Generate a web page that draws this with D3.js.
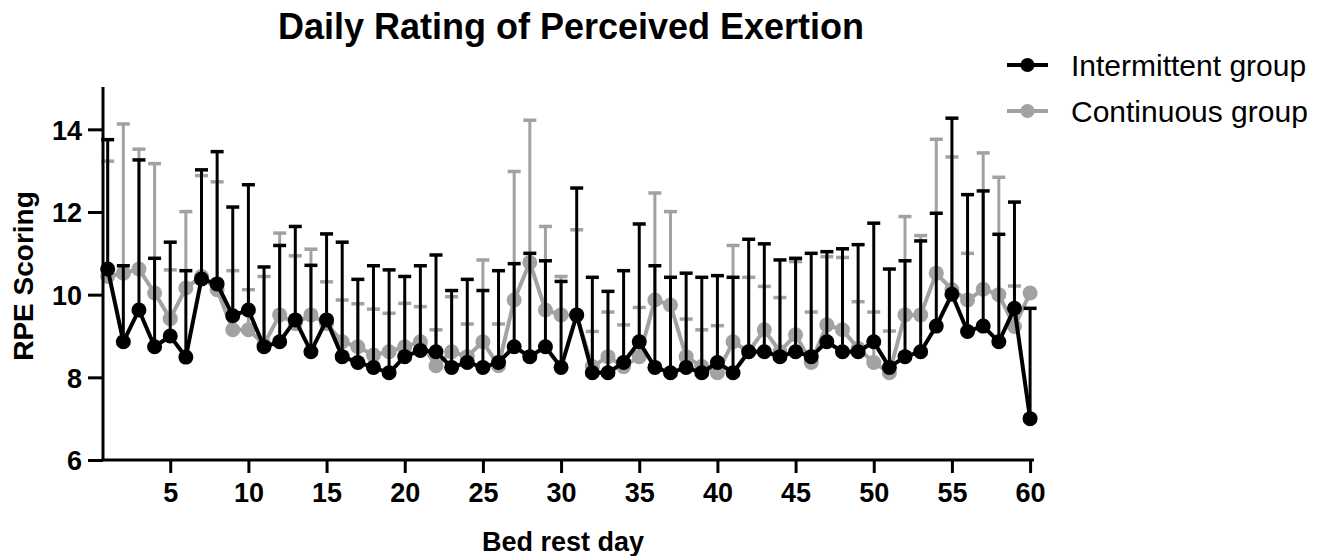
<!DOCTYPE html>
<html>
<head>
<meta charset="utf-8">
<script src="https://cdn.jsdelivr.net/npm/d3@7"></script>
<style>
  html, body { margin: 0; padding: 0; background: #fff; }
  svg { display: block; font-family: "Liberation Sans", Arial, Helvetica, sans-serif; }
</style>
</head>
<body>
<svg id="chart" width="1330" height="556"></svg>
<script>
const days = d3.range(1, 61);
const xTicks = [5, 10, 15, 20, 25, 30, 35, 40, 45, 50, 55, 60];
const yTicks = [6, 8, 10, 12, 14];

const intermittentMean = [10.62, 8.86, 9.63, 8.74, 9.00, 8.49, 10.38, 10.26, 9.49, 9.63,
  8.74, 8.86, 9.39, 8.62, 9.39, 8.50, 8.36, 8.24, 8.11, 8.50,
  8.65, 8.62, 8.24, 8.36, 8.24, 8.36, 8.74, 8.50, 8.74, 8.24,
  9.51, 8.11, 8.11, 8.36, 8.86, 8.24, 8.11, 8.24, 8.11, 8.36,
  8.11, 8.62, 8.62, 8.50, 8.62, 8.50, 8.86, 8.62, 8.62, 8.86,
  8.24, 8.50, 8.62, 9.24, 10.01, 9.11, 9.24, 8.86, 9.67, 7.00];
const intermittentSD = [3.13, 1.84, 3.63, 2.14, 2.27, 2.09, 2.64, 3.20, 2.63, 3.03,
  1.93, 2.33, 2.26, 2.09, 2.08, 2.77, 2.01, 2.46, 2.49, 1.94,
  2.05, 2.34, 1.86, 2.01, 1.86, 2.22, 2.01, 2.50, 2.08, 2.08,
  3.07, 2.31, 1.97, 2.22, 2.85, 2.46, 2.31, 2.28, 2.31, 2.10,
  2.31, 2.72, 2.61, 2.34, 2.26, 2.50, 2.18, 2.49, 2.59, 2.87,
  2.38, 2.32, 2.68, 2.73, 4.26, 3.31, 3.27, 2.60, 2.57, 2.67];

const continuousMean = [10.44, 10.52, 10.62, 10.04, 9.42, 10.16, 10.44, 10.12, 9.15, 9.15,
  8.80, 9.51, 9.30, 9.51, 9.30, 8.86, 8.74, 8.54, 8.62, 8.74,
  8.86, 8.28, 8.62, 8.50, 8.86, 8.28, 9.87, 10.78, 9.63, 9.51,
  9.50, 8.26, 8.50, 8.26, 8.50, 9.87, 9.75, 8.50, 8.26, 8.11,
  8.86, 8.62, 9.15, 8.62, 9.03, 8.36, 9.27, 9.15, 8.70, 8.36,
  8.11, 9.51, 9.51, 10.52, 10.12, 9.87, 10.13, 10.00, 9.23, 10.04];
const continuousSD = [2.79, 3.61, 2.90, 3.13, 1.18, 1.85, 2.44, 2.61, 1.43, 0.97,
  1.64, 1.98, 1.64, 1.59, 1.01, 1.01, 1.04, 1.11, 0.93, 1.05,
  0.85, 0.87, 1.33, 0.79, 1.98, 1.01, 3.11, 3.44, 2.02, 0.93,
  2.07, 0.85, 1.08, 1.01, 1.19, 2.59, 2.26, 0.91, 0.89, 1.14,
  2.33, 1.80, 1.05, 1.31, 1.77, 1.22, 1.65, 1.75, 1.13, 1.22,
  1.01, 2.38, 1.92, 3.24, 3.21, 1.13, 3.30, 2.84, 0.98, 0.00];

const seriesNames = ["Intermittent group", "Continuous group"];
const BLACK = "#000000";
const GRAY = "#a2a2a4";

const svg = d3.select("#chart");
const x = d3.scaleLinear().domain([0.7, 60.25]).range([103, 1034]);
const y = d3.scaleLinear().domain([6, 15]).range([460, 88]);

function drawSeries(means, sds, color) {
  const g = svg.append("g");
  const pts = days.map((d, i) => ({ day: d, mean: means[i], sd: sds[i] }));
  const eb = g.append("g").attr("stroke", color).attr("stroke-width", 3).attr("fill", "none");
  pts.filter(p => p.sd > 0).forEach(p => {
    eb.append("line").attr("x1", x(p.day)).attr("x2", x(p.day))
      .attr("y1", y(p.mean)).attr("y2", y(p.mean + p.sd));
    eb.append("line").attr("x1", x(p.day) - 6.5).attr("x2", x(p.day) + 6.5)
      .attr("y1", y(p.mean + p.sd)).attr("y2", y(p.mean + p.sd)).attr("stroke-width", 3.5);
  });
  g.append("path").datum(pts)
    .attr("fill", "none").attr("stroke", color).attr("stroke-width", 4)
    .attr("stroke-linejoin", "round")
    .attr("d", d3.line().x(p => x(p.day)).y(p => y(p.mean)));
  g.selectAll("circle").data(pts).join("circle")
    .attr("cx", p => x(p.day)).attr("cy", p => y(p.mean)).attr("r", 7.5)
    .attr("fill", color);
}

drawSeries(continuousMean, continuousSD, GRAY);
drawSeries(intermittentMean, intermittentSD, BLACK);

// Axes
const xAxis = svg.append("g").attr("transform", "translate(0,460)")
  .call(d3.axisBottom(x).tickValues(xTicks).tickSize(13).tickSizeOuter(0).tickPadding(10));
const yAxis = svg.append("g").attr("transform", "translate(103,0)")
  .call(d3.axisLeft(y).tickValues(yTicks).tickSize(15).tickSizeOuter(0).tickPadding(6));
[xAxis, yAxis].forEach(a => {
  a.selectAll("path, line").attr("stroke", "#000").attr("stroke-width", 3);
  a.selectAll("text").attr("fill", "#000").attr("font-size", 27).attr("font-weight", "bold")
    .attr("font-family", "'Liberation Sans', Arial, Helvetica, sans-serif");
});
xAxis.select(".domain").attr("d", "M101.5,0H1034");
yAxis.select(".domain").attr("d", "M0,460V87");
yAxis.selectAll("text").attr("dy", "0.36em");

// Title and labels
svg.append("text").attr("x", 571).attr("y", 39).attr("text-anchor", "middle")
  .attr("font-size", 36).attr("font-weight", "bold").text("Daily Rating of Perceived Exertion");
svg.append("text").attr("x", 563).attr("y", 551).attr("text-anchor", "middle")
  .attr("font-size", 27).attr("font-weight", "bold").text("Bed rest day");
svg.append("text").attr("transform", "translate(33,276) rotate(-90)").attr("text-anchor", "middle")
  .attr("font-size", 28).attr("font-weight", "bold").text("RPE Scoring");

// Legend
const legend = svg.append("g");
[BLACK, GRAY].forEach((c, i) => {
  const ly = 65 + i * 46;
  legend.append("line").attr("x1", 1007).attr("x2", 1048).attr("y1", ly).attr("y2", ly)
    .attr("stroke", c).attr("stroke-width", 4);
  legend.append("circle").attr("cx", 1027.5).attr("cy", ly).attr("r", 7).attr("fill", c);
  legend.append("text").attr("x", 1071).attr("y", ly + 11).attr("font-size", 30)
    .attr("fill", "#000").text(seriesNames[i]);
});
</script>
</body>
</html>
